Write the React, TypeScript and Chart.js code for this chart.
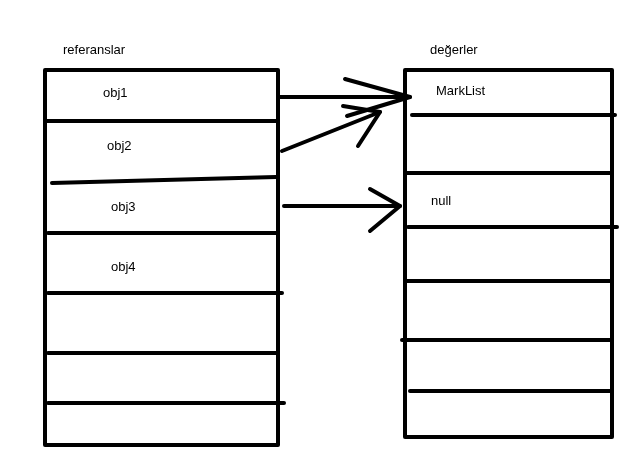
import { useRef, useEffect } from "react";
import Chart from "chart.js/auto";

// Diagram in picture units (x right, y down), 641 x 469
const leftBox = [[45, 70], [278, 70], [278, 445], [45, 445], [45, 70]];
const rightBox = [[405, 70], [612, 70], [612, 437], [405, 437], [405, 70]];
const leftRows = [
  [[45, 121], [278, 121]],
  [[52, 183], [276, 177]],
  [[48, 233], [276, 233]],
  [[48, 293], [282, 293]],
  [[48, 353], [276, 353]],
  [[48, 403], [284, 403]],
];
const rightRows = [
  [[412, 115], [615, 115]],
  [[405, 173], [612, 173]],
  [[408, 227], [617, 227]],
  [[405, 281], [612, 281]],
  [[402, 340], [612, 340]],
  [[410, 391], [612, 391]],
];
const arrows = [
  [[280, 97], [410, 97]],
  [[345, 79], [410, 97], [347, 116]],
  [[282, 151], [380, 112]],
  [[343, 106], [380, 112], [358, 146]],
  [[284, 206], [400, 206]],
  [[370, 189], [400, 206], [370, 231]],
];
const labels = ["referanslar", "değerler", "obj1", "obj2", "obj3", "obj4", "MarkList", "null"];
const labelPos = [[63, 50], [430, 50], [103, 93], [107, 146], [111, 207], [111, 267], [436, 91], [431, 201]];

const textPlugin = {
  id: "diagramText",
  afterDatasetsDraw(chart: any) {
    const { ctx, scales } = chart;
    ctx.save();
    ctx.fillStyle = "#000";
    ctx.font = "13px 'Liberation Sans', sans-serif";
    ctx.textBaseline = "middle";
    labels.forEach((t, i) => {
      ctx.fillText(t, scales.x.getPixelForValue(labelPos[i][0]), scales.y.getPixelForValue(labelPos[i][1]));
    });
    ctx.restore();
  },
};

export default function App() {
  const canvasRef = useRef<HTMLCanvasElement | null>(null);

  useEffect(() => {
    document.body.style.margin = "0";
    if (!canvasRef.current) return;
    const polylines = [leftBox, rightBox, ...leftRows, ...rightRows, ...arrows];
    const chart = new Chart(canvasRef.current, {
      type: "scatter",
      data: {
        datasets: polylines.map((pts) => ({
          data: pts.map(([x, y]) => ({ x, y })),
          showLine: true,
          borderColor: "#000",
          borderWidth: 4,
          pointRadius: 0,
          borderCapStyle: "round",
          borderJoinStyle: "round",
        })),
      },
      options: {
        responsive: false,
        animation: false,
        layout: { padding: 0 },
        plugins: { legend: { display: false }, tooltip: { enabled: false } },
        scales: {
          x: { type: "linear", min: 0, max: 641, display: false },
          y: { type: "linear", min: 0, max: 469, reverse: true, display: false },
        },
      },
      plugins: [textPlugin],
    });
    return () => chart.destroy();
  }, []);

  return (
    <div style={{ width: 641, height: 469, background: "#fff" }}>
      <canvas ref={canvasRef} width={641} height={469}></canvas>
    </div>
  );
}
